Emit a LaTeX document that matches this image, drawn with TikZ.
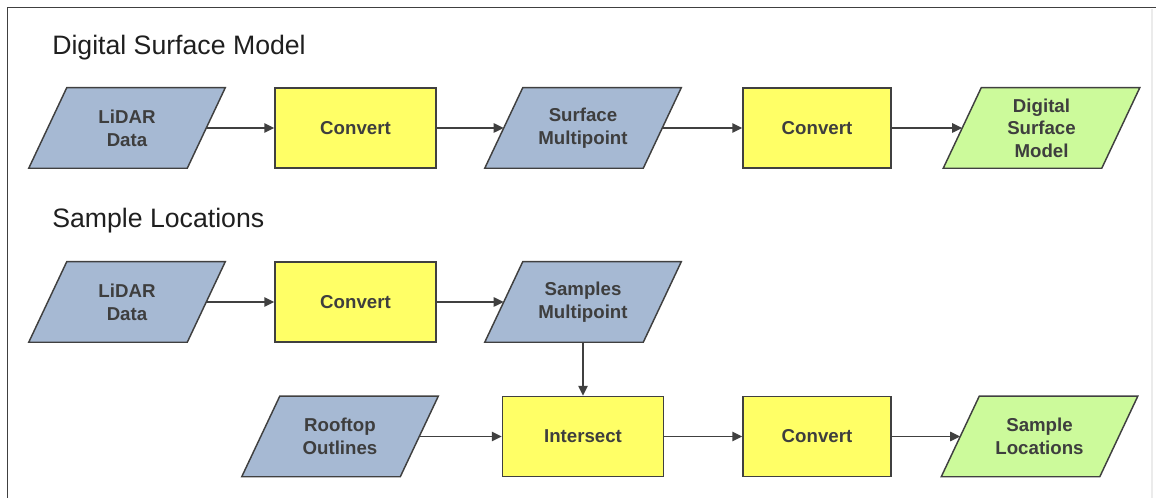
\documentclass[tikz,border=0pt]{standalone}
\usepackage{fontspec}
\setmainfont{Liberation Sans}
\usetikzlibrary{arrows.meta,calc,backgrounds}
\definecolor{linec}{RGB}{64,64,64}
\definecolor{textc}{RGB}{62,62,62}
\definecolor{datablue}{RGB}{166,185,211}
\definecolor{procyellow}{RGB}{255,255,102}
\definecolor{outgreen}{RGB}{204,250,155}
\tikzset{
  x=0.75pt, y=-0.75pt,
  boxtext/.style={font=\fontsize{14}{17}\selectfont\bfseries, text=textc, align=center, inner sep=0pt},
  databox/.style={boxtext, minimum width=118.5pt, minimum height=60pt},
  procbox/.style={boxtext, draw=linec, line width=1.1pt, fill=procyellow, minimum width=120.75pt, minimum height=60pt},
  procboxn/.style={procbox, minimum width=111pt},
  shapeline/.style={draw=linec, line width=1.1pt},
  arr/.style={draw=linec, line width=1.1pt, -{Triangle[length=7.5pt,width=7pt]}},
  title/.style={font=\fontsize{20}{23}\selectfont, text=black!88, anchor=base west, inner sep=0pt}
}
\newcommand{\parashape}[2]{%
  \draw[shapeline, fill=#2] ($(#1.north west)+(19,0)$) -- ($(#1.north east)+(19,0)$)
    -- ($(#1.south east)+(-19,0)$) -- ($(#1.south west)+(-19,0)$) -- cycle;}
\begin{document}
\begin{tikzpicture}
\useasboundingbox (0,0) rectangle (1156,498);
% frame
\draw[draw=linec, line width=1.2pt] (1156,7.5) -- (7.5,7.5) -- (7.5,498);
\draw[draw=black!8, line width=1pt] (1152,9) -- (1152,498);

% titles
\node[title] (t1) at (52,55) {Digital Surface Model};
\node[title] (t2) at (52,228) {Sample Locations};

% row 1
\node[databox] (l1) at (127,128) {LiDAR\\Data};
\node[procbox] (c1) at (355.5,128) {Convert};
\node[databox] (sm) at (583,128) {Surface\\Multipoint};
\node[procboxn] (c2) at (817,128) {Convert};
\node[databox] (dsm) at (1041.5,128) {Digital\\Surface\\Model};

% row 2
\node[databox] (l2) at (127,302) {LiDAR\\Data};
\node[procbox] (c3) at (355.5,302) {Convert};
\node[databox] (spm) at (583,302) {Samples\\Multipoint};

% row 3
\node[databox] (ro) at (340,436.5) {Rooftop\\Outlines};
\node[procbox] (is) at (583,436.5) {Intersect};
\node[procboxn] (c4) at (817,436.5) {Convert};
\node[databox] (sl) at (1039.5,436.5) {Sample\\Locations};

\begin{scope}[on background layer]
\parashape{l1}{datablue}
\parashape{sm}{datablue}
\parashape{dsm}{outgreen}
\parashape{l2}{datablue}
\parashape{spm}{datablue}
\parashape{ro}{datablue}
\parashape{sl}{outgreen}
\end{scope}

% connectors
\draw[arr] (l1) -- (c1);
\draw[arr] (c1) -- (sm);
\draw[arr] (sm) -- (c2);
\draw[arr] (c2) -- (dsm);
\draw[arr] (l2) -- (c3);
\draw[arr] (c3) -- (spm);
\draw[arr] (spm) -- (is);
\draw[arr] (ro) -- (is);
\draw[arr] (is) -- (c4);
\draw[arr] (c4) -- (sl);
\end{tikzpicture}
\end{document}
